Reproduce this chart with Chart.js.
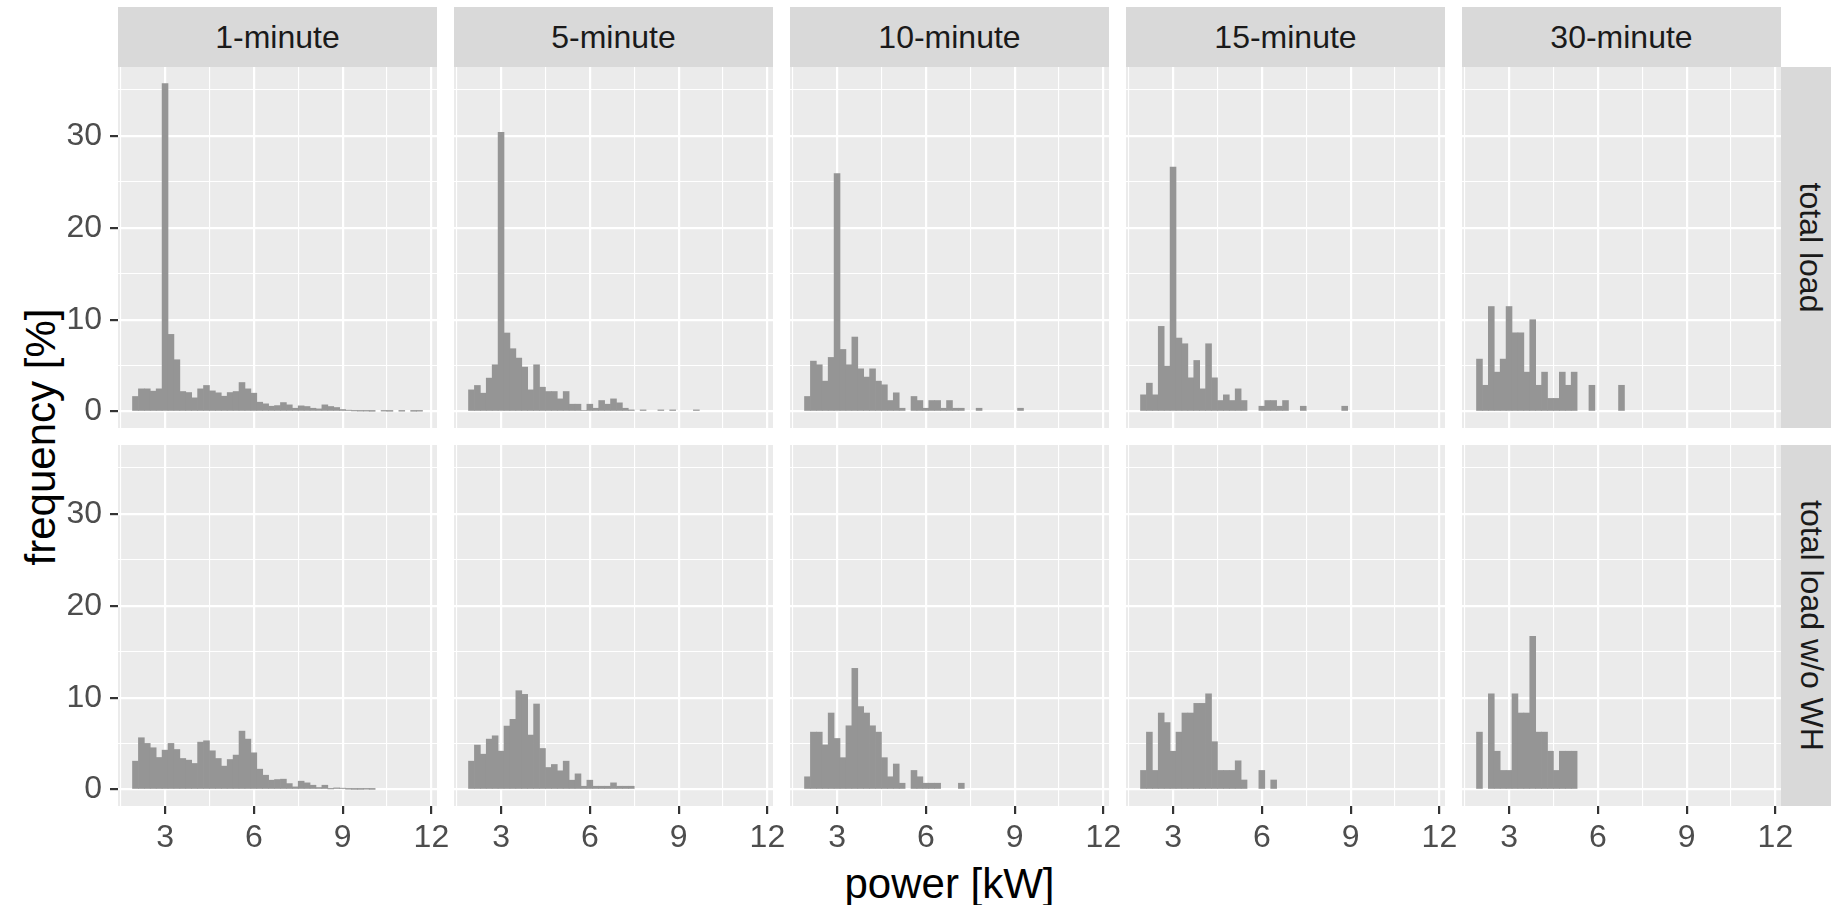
<!DOCTYPE html>
<html>
<head>
<meta charset="utf-8">
<script src="https://cdn.jsdelivr.net/npm/chart.js@4.4.1/dist/chart.umd.min.js"></script>
<style>
  html, body { margin: 0; padding: 0; background: #fff; }
  body { width: 1831px; height: 905px; position: relative; overflow: hidden; font-family: "Liberation Sans", Arial, sans-serif; }
  canvas { position: absolute; }
  .strip { position: absolute; background: #D9D9D9; color: #1A1A1A; font-size: 32px; display: flex; align-items: center; justify-content: center; white-space: nowrap; }
  .strip .rot { display: inline-block; transform: rotate(90deg); }
  .title { position: absolute; color: #000; font-size: 42px; white-space: nowrap; transform: translate(-50%, -50%); }
</style>
</head>
<body>
<script>
// facets
const resolutions = ["1-minute", "5-minute", "10-minute", "15-minute", "30-minute"];
const loadTypes = ["total load", "total load w/o WH"];

// histogram bins (centres, kW), bin width 0.2
const binCenters = [2.0, 2.2, 2.4, 2.6, 2.8, 3.0, 3.2, 3.4, 3.6, 3.8, 4.0, 4.2, 4.4, 4.6, 4.8,
  5.0, 5.2, 5.4, 5.6, 5.8, 6.0, 6.2, 6.4, 6.6, 6.8, 7.0, 7.2, 7.4, 7.6, 7.8, 8.0, 8.2, 8.4, 8.6,
  8.8, 9.0, 9.2, 9.4, 9.6, 9.8, 10.0, 10.2, 10.4, 10.6, 10.8, 11.0, 11.2, 11.4, 11.6];

// ticks
const xTicks = [1.5, 3, 4.5, 6, 7.5, 9, 10.5, 12];
const xLabels = [3, 6, 9, 12];
const yTicks = [0, 5, 10, 15, 20, 25, 30, 35];
const yLabels = [0, 10, 20, 30];

// frequency [%] per bin - total load
const total1 = [1.64, 2.47, 2.47, 2.22, 2.47, 35.7, 8.4, 5.64, 2.18, 2.07, 1.49, 2.47, 2.84, 2.25, 2.04,
  1.67, 2.07, 2.18, 3.16, 2.47, 2.0, 1.02, 0.84, 0.58, 0.65, 0.98, 0.73, 0.36, 0.62, 0.55, 0.36, 0.29,
  0.73, 0.55, 0.44, 0.22, 0.15, 0.07, 0.05, 0.05, 0.03, 0, 0.05, 0.03, 0, 0.04, 0, 0.03, 0.04];
const total5 = [2.36, 2.84, 2.0, 3.64, 5.09, 30.4, 8.55, 6.84, 5.82, 4.84, 2.36, 5.09, 2.65, 2.18, 2.18,
  1.38, 2.18, 0.8, 0.8, 0.11, 0.8, 0.36, 1.2, 0.8, 1.38, 0.95, 0.36, 0.18, 0, 0.18, 0, 0, 0.18, 0,
  0.18, 0, 0, 0, 0.18];
const total10 = [1.64, 5.49, 5.09, 3.31, 5.89, 25.9, 6.76, 5.09, 8.11, 4.65, 3.75, 4.65, 3.31, 2.91, 1.2,
  2.04, 0.36, 0, 1.64, 1.2, 0.36, 1.2, 1.2, 0.36, 1.2, 0.36, 0.36, 0, 0, 0.36, 0, 0, 0, 0, 0, 0, 0.36];
const total15 = [1.82, 3.09, 1.82, 9.27, 4.95, 26.6, 8.0, 7.38, 3.67, 5.56, 2.47, 7.38, 3.67, 1.2, 1.82,
  1.2, 2.47, 1.2, 0, 0, 0.58, 1.2, 1.2, 0.58, 1.2, 0, 0, 0.58, 0, 0, 0, 0, 0, 0, 0.58];
const total30 = [5.71, 2.86, 11.43, 4.29, 5.71, 11.43, 8.57, 8.57, 4.29, 10.0, 2.86, 4.29, 1.43, 1.43,
  4.29, 2.86, 4.29, 0, 0, 2.86, 0, 0, 0, 0, 2.86];

// frequency [%] per bin - total load w/o WH
const noWH1 = [3.09, 5.64, 5.02, 4.55, 3.49, 4.29, 5.02, 4.36, 3.38, 3.2, 2.84, 5.16, 5.31, 4.22, 3.38,
  2.55, 3.27, 3.75, 6.36, 5.49, 4.0, 2.22, 1.56, 1.02, 1.09, 1.13, 0.65, 0.29, 0.91, 0.73, 0.47, 0.22,
  0.47, 0.07, 0.18, 0.15, 0.04, 0.02, 0.02, 0.04, 0.02];
const noWH5 = [3.09, 4.84, 3.85, 5.49, 5.85, 4.18, 6.91, 7.64, 10.76, 10.36, 5.93, 9.31, 4.47, 2.4, 2.73,
  2.04, 3.09, 1.02, 1.71, 0.36, 1.02, 0.36, 0.36, 0.36, 0.73, 0.36, 0.36, 0.36];
const noWH10 = [1.39, 6.25, 6.25, 4.86, 8.33, 5.56, 3.47, 6.94, 13.19, 9.03, 8.33, 6.94, 6.25, 3.47, 1.39,
  2.78, 0.69, 0, 2.08, 1.39, 0.69, 0.69, 0.69, 0, 0, 0, 0.69];
const noWH15 = [2.08, 6.25, 2.08, 8.33, 7.29, 4.17, 6.25, 8.33, 8.33, 9.38, 9.38, 10.42, 5.21, 2.08, 2.08,
  2.08, 3.13, 1.04, 0, 0, 2.08, 0, 1.04];
const noWH30 = [6.25, 0, 10.42, 4.17, 2.08, 2.08, 10.42, 8.33, 8.33, 16.67, 6.25, 6.25, 4.17, 2.08, 4.17,
  4.17, 4.17];

const freqs = [
  [total1, total5, total10, total15, total30],
  [noWH1, noWH5, noWH10, noWH15, noWH30]
];

// layout (px)
const panelLeft = 118, panelPitch = 336, panelW = 319;
const rowTop = [67, 445], panelH = 361;
const yAxisW = 58, xAxisH = 62, labelRoom = 17;
const FONT = '"Liberation Sans", Arial, sans-serif';

const panelBg = {
  id: "panelBg",
  beforeDraw(chart) {
    const { ctx, chartArea: a } = chart;
    ctx.save();
    ctx.fillStyle = "#EBEBEB";
    ctx.fillRect(a.left, a.top, a.right - a.left, a.bottom - a.top);
    ctx.restore();
  }
};

function addDiv(cls, text, css) {
  const d = document.createElement("div");
  d.className = cls;
  d.innerHTML = text;
  Object.assign(d.style, css);
  document.body.appendChild(d);
  return d;
}

// strips
resolutions.forEach((name, c) => {
  addDiv("strip", name, { left: (panelLeft + c * panelPitch) + "px", top: "7px", width: panelW + "px", height: "60px" });
});
loadTypes.forEach((name, r) => {
  addDiv("strip", '<span class="rot">' + name + "</span>",
    { left: (panelLeft + 4 * panelPitch + panelW) + "px", top: rowTop[r] + "px", width: "60px", height: panelH + "px" });
});

// axis titles
addDiv("title", "power [kW]", { left: (panelLeft + (4 * panelPitch + panelW) / 2) + "px", top: "884px" });
addDiv("title", "frequency [%]", { left: "41px", top: (rowTop[0] + (rowTop[1] + panelH - rowTop[0]) / 2) + "px", transform: "translate(-50%, -50%) rotate(-90deg)" });

// panels
freqs.forEach((row, r) => {
  row.forEach((vals, c) => {
    const isLeft = c === 0, isBottom = r === 1;
    const padR = isBottom ? labelRoom : 0;
    const w = panelW + (isLeft ? yAxisW : 0) + padR;
    const h = panelH + (isBottom ? xAxisH : 0);
    const cv = document.createElement("canvas");
    cv.width = w; cv.height = h;
    cv.style.left = (panelLeft + c * panelPitch - (isLeft ? yAxisW : 0)) + "px";
    cv.style.top = rowTop[r] + "px";
    document.body.appendChild(cv);

    new Chart(cv, {
      type: "bar",
      data: {
        datasets: [{
          // empty bins are left out so they draw nothing
          data: vals.map((v, i) => ({ x: binCenters[i], y: v === 0 ? null : v })),
          backgroundColor: "#959595",
          borderWidth: 0,
          barPercentage: 1,
          categoryPercentage: 1
        }]
      },
      options: {
        responsive: false,
        animation: false,
        devicePixelRatio: 1,
        layout: { padding: { left: 0, top: 0, bottom: 0, right: padR } },
        plugins: { legend: { display: false }, tooltip: { enabled: false } },
        scales: {
          x: {
            type: "linear", min: 1.41, max: 12.19, offset: false,
            border: { display: false },
            grid: {
              offset: false, color: "#FFFFFF",
              lineWidth: (ctx) => (ctx.tick && xLabels.includes(ctx.tick.value) ? 2.2 : 1.1),
              drawTicks: isBottom, tickLength: 8, tickWidth: 2.2,
              tickColor: (ctx) => (ctx.tick && xLabels.includes(ctx.tick.value) ? "#333333" : "rgba(0,0,0,0)")
            },
            ticks: {
              display: isBottom, autoSkip: false, maxRotation: 0, minRotation: 0, padding: 5,
              color: "#4D4D4D", font: { family: FONT, size: 32 },
              callback: (v) => (xLabels.includes(v) ? String(v) : "")
            },
            afterBuildTicks: (s) => { s.ticks = xTicks.map((v) => ({ value: v })); },
            afterFit: (s) => { s.height = isBottom ? xAxisH : 0; s.paddingLeft = 0; s.paddingRight = 0; }
          },
          y: {
            type: "linear", min: -1.79, max: 37.5,
            border: { display: false },
            grid: {
              color: "#FFFFFF",
              lineWidth: (ctx) => (ctx.tick && yLabels.includes(ctx.tick.value) ? 2.2 : 1.1),
              drawTicks: isLeft, tickLength: 8, tickWidth: 2.2,
              tickColor: (ctx) => (ctx.tick && yLabels.includes(ctx.tick.value) ? "#333333" : "rgba(0,0,0,0)")
            },
            ticks: {
              display: isLeft, autoSkip: false, padding: 8,
              color: "#4D4D4D", font: { family: FONT, size: 32 },
              callback: (v) => (yLabels.includes(v) ? String(v) : "")
            },
            afterBuildTicks: (s) => { s.ticks = yTicks.map((v) => ({ value: v })); },
            afterFit: (s) => { s.width = isLeft ? yAxisW : 0; s.paddingTop = 0; s.paddingBottom = 0; }
          }
        }
      },
      plugins: [panelBg]
    });
  });
});
</script>
</body>
</html>
